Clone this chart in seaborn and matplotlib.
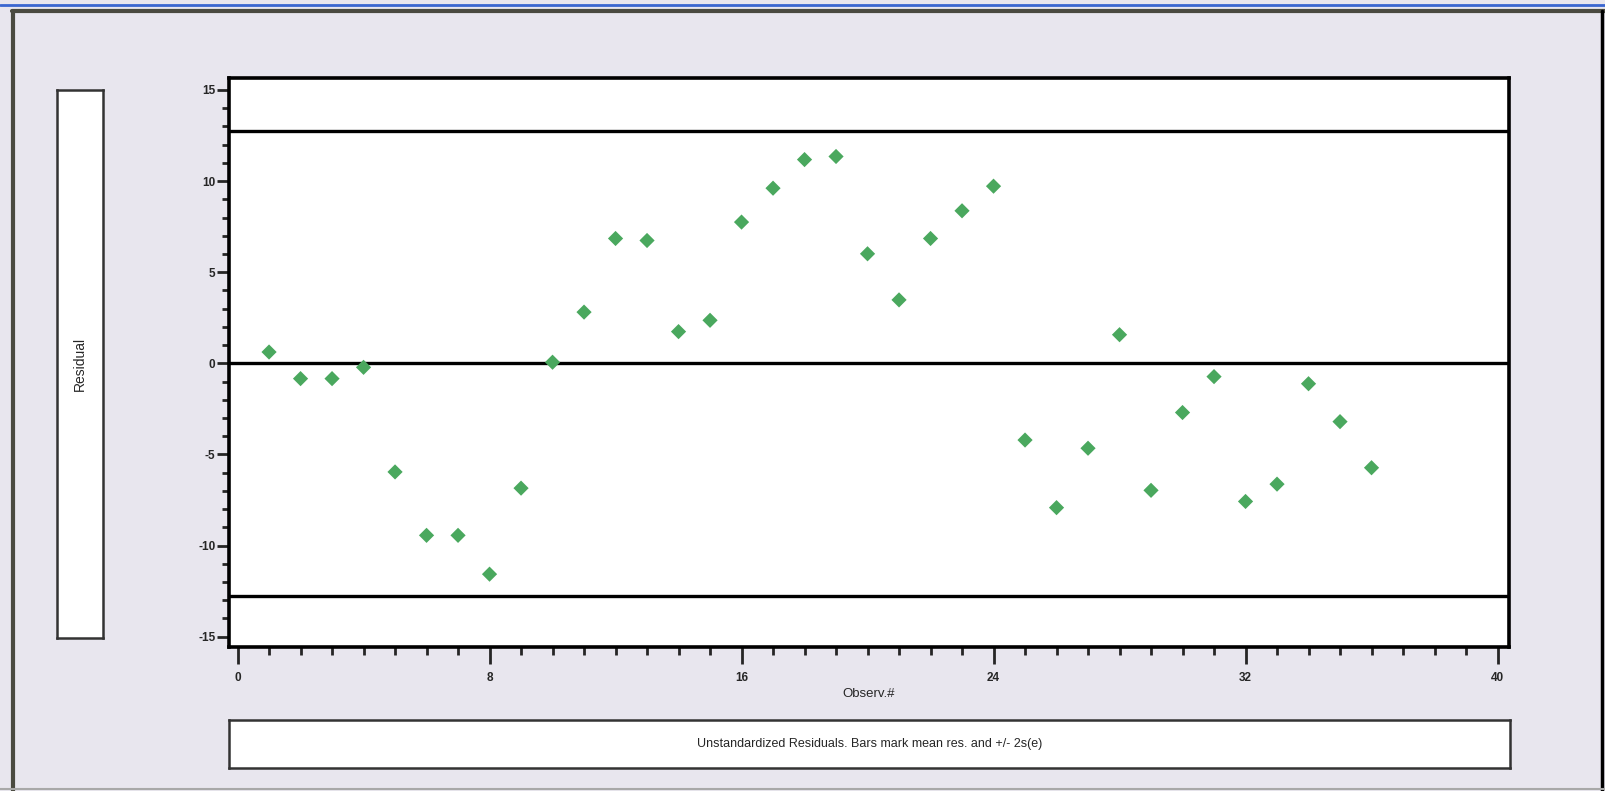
import numpy as np
import pandas as pd
import seaborn as sns
import matplotlib.pyplot as plt
from matplotlib.lines import Line2D
from matplotlib.ticker import MultipleLocator

# ---------- Data ----------
observ = list(range(1, 37))
residual = [0.62, -0.84, -0.84, -0.22, -5.96, -9.44, -9.44, -11.57, -6.85, 0.06,
            2.81, 6.85, 6.74, 1.74, 2.36, 7.75, 9.61, 11.18, 11.35, 6.01,
            3.48, 6.85, 8.37, 9.72, -4.21, -7.92, -4.66, 1.57, -6.97, -2.70,
            -0.73, -7.58, -6.63, -1.12, -3.20, -5.73]
mean_res = 0.0
two_se = 12.75
x_ticks = [0, 8, 16, 24, 32, 40]
y_ticks = [-15, -10, -5, 0, 5, 10, 15]

df = pd.DataFrame({"Observ.#": observ, "Residual": residual})

# ---------- Style ----------
sns.set_style("ticks")
plt.rcParams["font.family"] = ["Liberation Sans", "DejaVu Sans"]
plt.rcParams["axes.unicode_minus"] = False

bg = "#e8e6ee"
fig = plt.figure(figsize=(16.05, 7.91), dpi=100, facecolor=bg)

# window frame
fig.add_artist(Line2D([0, 1], [0.994, 0.994], transform=fig.transFigure, color="#3a66d0", lw=2.0))
fig.add_artist(Line2D([0.0075, 1], [0.986, 0.986], transform=fig.transFigure, color="#4a4a40", lw=3.0))
fig.add_artist(Line2D([0.0082, 0.0082], [0.0, 0.986], transform=fig.transFigure, color="#4a4a40", lw=3.0))
fig.add_artist(Line2D([0.998, 0.998], [0.0, 0.986], transform=fig.transFigure, color="black", lw=2.5))
fig.add_artist(Line2D([0.0, 1], [0.002, 0.002], transform=fig.transFigure, color="#a8a8a8", lw=1.5))

# ---------- Main axes ----------
ax = fig.add_axes([0.1429, 0.1822, 0.7972, 0.7195])
ax.set_facecolor("white")

for yv in [mean_res + two_se, mean_res, mean_res - two_se]:
    ax.axhline(yv, color="black", lw=2.4, zorder=1)

sns.scatterplot(data=df, x="Observ.#", y="Residual", marker="D", s=60,
                color="#4aa85e", edgecolor="none", ax=ax, zorder=3)

ax.set_xlim(-0.26, 40.36)
ax.set_ylim(-15.56, 15.67)
ax.set_xticks(x_ticks)
ax.set_yticks(y_ticks)
ax.xaxis.set_minor_locator(MultipleLocator(1))
ax.yaxis.set_minor_locator(MultipleLocator(1))
ax.tick_params(axis="x", which="major", length=12, width=2, labelsize=8.5, pad=6)
ax.tick_params(axis="x", which="minor", length=6, width=2)
ax.tick_params(axis="y", which="major", length=9, width=2, labelsize=8.5, pad=1)
ax.tick_params(axis="y", which="minor", length=5, width=2)
for lbl in ax.get_xticklabels() + ax.get_yticklabels():
    lbl.set_fontweight("bold")
for sp in ax.spines.values():
    sp.set_visible(True)
    sp.set_linewidth(2.6)
    sp.set_color("black")
ax.set_ylabel("")
ax.set_xlabel("Observ.#", fontsize=9.5, labelpad=3)

# ---------- Side label box ----------
lab = fig.add_axes([0.0357, 0.1938, 0.0287, 0.6923])
lab.set_xticks([])
lab.set_yticks([])
for sp in lab.spines.values():
    sp.set_linewidth(1.8)
    sp.set_color("#333333")
lab.text(0.5, 0.5, "Residual", rotation=90, ha="center", va="center", fontsize=10)

# ---------- Caption box ----------
cap = fig.add_axes([0.1429, 0.0295, 0.7978, 0.0608])
cap.set_xticks([])
cap.set_yticks([])
for sp in cap.spines.values():
    sp.set_linewidth(1.8)
    sp.set_color("#333333")
cap.text(0.5, 0.5, "Unstandardized Residuals. Bars mark mean res. and +/- 2s(e)",
         ha="center", va="center", fontsize=9)

plt.savefig("out.png", dpi=100, facecolor=bg)
